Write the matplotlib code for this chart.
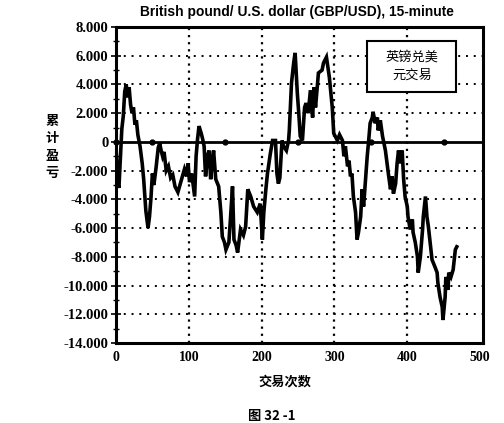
import matplotlib
matplotlib.use("Agg")
import matplotlib.pyplot as plt
from matplotlib.ticker import MultipleLocator, FixedLocator
from matplotlib.patches import Rectangle

title = "British pound/ U.S. dollar (GBP/USD), 15-minute"
legend_text = "英镑兑美\n元交易"
x_label = "交易次数"
y_label = "累计盈亏"
caption = "图 32 -1"

trade_no = [0, 2, 4, 6, 8, 10, 12, 14, 16, 18, 20, 22, 24, 26, 28, 30, 33, 36, 38, 41,
            44, 46, 48, 50, 52, 55, 58, 60, 62, 64, 66, 69, 72, 75, 78, 81, 85, 89, 92, 94,
            97, 99, 101, 104, 108, 110, 112, 114, 117, 119, 121, 123, 126, 128, 130, 132, 134, 137, 141, 144,
            146, 149, 151, 155, 157, 160, 162, 165, 167, 171, 175, 178, 181, 185, 189, 194, 198, 201, 203, 206,
            208, 212, 215, 219, 221, 223, 225, 228, 230, 234, 237, 238, 241, 244, 246, 249, 251, 253, 256, 259,
            261, 264, 267, 270, 272, 274, 278, 283, 285, 289, 291, 293, 297, 299, 304, 307, 311, 313, 315, 318,
            320, 322, 324, 326, 329, 331, 333, 336, 338, 340, 342, 345, 347, 349, 352, 353, 356, 359, 360, 363,
            366, 370, 374, 377, 379, 381, 384, 386, 388, 390, 393, 395, 397, 400, 401, 404, 407, 408, 411, 414,
            415, 418, 421, 422, 425, 427, 429, 432, 434, 438, 441, 442, 445, 448, 449, 452, 453, 456, 457, 460,
            463, 466, 468]
pnl = [-300, -2800, -3200, -1200, 900, 1800, 3500, 4000, 3100, 3800, 2600, 2000, 2400, 1200, 1500, 500, -300, -1500, -2600, -4800,
       -6000, -5200, -3900, -2200, -3000, -1800, -400, -100, -600, -1000, -700, -2000, -1700, -2500, -2300, -3100, -3500, -2800, -2300, -1900,
       -2400, -1500, -2800, -2200, -3800, -1000, 200, 1100, 600, 200, -300, -2400, -900, -600, -2600, -1500, -600, -2600, -3100, -4900,
       -6600, -7000, -7500, -7000, -5500, -3100, -6800, -7200, -7700, -6100, -6500, -5900, -3300, -3800, -4500, -4900, -4300, -6800, -4900, -3200,
       -2200, -800, 100, 100, -2200, -2900, -2500, 100, -300, -600, 100, 800, 4100, 5500, 6200, 3400, 2000, 400, 100, 2400,
       2700, 2000, 3600, 1700, 3800, 2400, 4800, 5000, 5500, 5900, 5200, 4500, 2400, 600, 100, 500, 100, -1000, -300, -1700,
       -1300, -2400, -2200, -3800, -4900, -6800, -6300, -5200, -3300, -4500, -3100, -1000, 100, 1300, 1700, 2100, 1300, 1700, 800, 1500,
       400, -600, -2200, -3300, -2400, -3600, -2900, -1500, -600, -1500, -600, -2600, -3800, -4500, -5200, -6100, -5400, -6300, -7000, -8000,
       -9100, -8000, -6100, -5200, -3800, -5200, -5900, -7300, -8200, -8700, -9100, -9800, -10800, -11500, -12400, -10800, -9400, -10300, -9100, -9400,
       -8900, -7500, -7300]

zero_marker_x = [0, 50, 150, 250, 350, 450]
zero_marker_y = [0, 0, 0, 0, 0, 0]

y_ticks = [8000, 6000, 4000, 2000, 0, -2000, -4000, -6000, -8000, -10000, -12000, -14000]
y_tick_labels = ["8.000", "6.000", "4.000", "2.000", "0", "-2.000", "-4.000", "-6.000",
                 "-8.000", "-10.000", "-12.000", "-14.000"]
x_ticks = [0, 100, 200, 300, 400, 500]
x_tick_labels = ["0", "100", "200", "300", "400", "500"]

cjk = ["Noto Sans CJK SC", "DejaVu Sans"]
serif = ["Liberation Serif", "DejaVu Serif"]

fig = plt.figure(figsize=(5.04, 4.23), dpi=100)
ax = fig.add_axes([116 / 504, 1 - 343 / 423, (483 - 116) / 504, 316 / 423])
ax.set_xlim(0, 504)
ax.set_ylim(-14000, 8000)

# grid
for gy in [6000, 4000, 2000, -2000, -4000, -6000, -8000, -10000, -12000]:
    ax.axhline(gy, color="black", lw=1.4, linestyle=(0, (1, 3)), zorder=1)
for gx in [100, 200, 300, 400]:
    ax.axvline(gx, color="black", lw=1.6, linestyle=(0, (1, 2.2)), zorder=1)

# zero line
ax.axhline(0, color="black", lw=2.0, zorder=2)
ax.plot(zero_marker_x, zero_marker_y, linestyle="none", marker="o", ms=3.5, color="black", zorder=2, clip_on=False)

ax.plot(trade_no, pnl, color="black", lw=2.6, zorder=3, solid_joinstyle="miter")

ax.yaxis.set_major_locator(FixedLocator(y_ticks))
ax.set_yticklabels(y_tick_labels, fontfamily=serif, fontweight="bold", fontsize=10.5)
ax.yaxis.set_minor_locator(MultipleLocator(1000))
ax.xaxis.set_major_locator(FixedLocator(x_ticks))
ax.set_xticklabels(x_tick_labels, fontfamily=serif, fontweight="bold", fontsize=10)
ax.tick_params(axis="y", which="major", direction="inout", length=7, width=1.2, pad=2)
ax.tick_params(axis="y", which="minor", direction="inout", length=5, width=1.0)
ax.tick_params(axis="x", which="major", direction="in", length=0, pad=6)
for s in ax.spines.values():
    s.set_linewidth(2.2)

# legend box
ax.add_patch(Rectangle((0.685, 0.795), 0.242, 0.16, transform=ax.transAxes,
                       facecolor="white", edgecolor="black", lw=1.5, zorder=4))
ax.text(0.806, 0.875, legend_text, transform=ax.transAxes, ha="center", va="center",
        fontfamily=cjk, fontsize=9.5, linespacing=1.5, zorder=5)

fig.text(297 / 504, 1 - 12 / 423, title, ha="center", va="center",
         fontfamily=["Liberation Sans", "DejaVu Sans"], fontweight="heavy", fontsize=9.9)
fig.text(285 / 504, 1 - 382 / 423, x_label, ha="center", va="center", fontfamily=cjk,
         fontsize=9.5, fontweight="bold")
fig.text(52 / 504, 1 - 147 / 423, "\n".join(y_label), ha="center", va="center", fontfamily=cjk,
         fontsize=9.5, fontweight="bold", linespacing=1.3)
fig.text(272 / 504, 1 - 416 / 423, caption, ha="center", va="center",
         fontfamily=["Noto Sans CJK SC", "DejaVu Sans"], fontsize=9.5, fontweight="bold")

fig.savefig("out.png", dpi=100)
